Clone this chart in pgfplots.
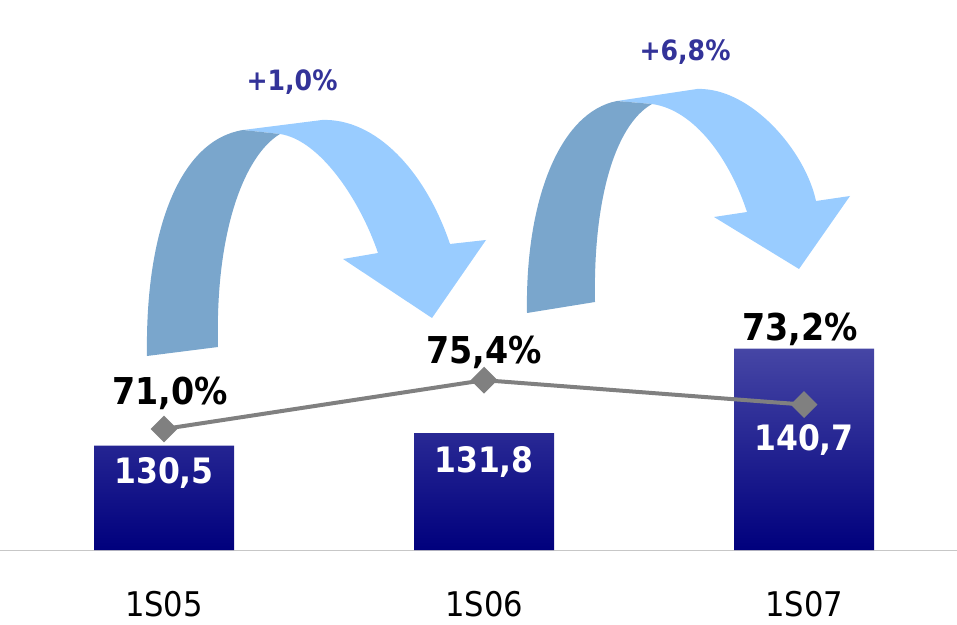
\documentclass[border=0pt]{standalone}
\usepackage{fontspec}
\setmainfont{DejaVu Sans}[FakeStretch=0.9]
\usepackage{pgfplots}
\pgfplotsset{compat=1.18}
\usepackage{pgfplotstable}

\definecolor{bartop}{RGB}{70,70,165}
\definecolor{barbot}{RGB}{0,0,125}
\definecolor{linegray}{RGB}{128,128,128}
\definecolor{arrowdark}{RGB}{122,166,204}
\definecolor{arrowlight}{RGB}{153,204,255}
\definecolor{growth}{RGB}{51,51,153}

% bar values, label offset (pt) from bar top
\pgfplotstableread{
x v dy
0 130.5 -27
1 131.8 -29
2 140.7 -91
}\sales

% ratio line, label offsets (pt)
\pgfplotstableread{
x p dx dy
0 71.0 6 36
1 75.4 0 28
2 73.2 -4 75
}\ratio

\pgfplotsset{base/.style={
  scale only axis, width=957pt, height=550pt,
  xmin=-0.5125, xmax=2.478,
  at={(0pt,0pt)}, anchor=south west,
  /pgf/number format/assume math mode=true}}

\begin{document}
\begin{tikzpicture}
\begin{axis}[base,
  ymin=0, ymax=57.9,
  axis y line=none, axis x line*=bottom,
  axis line style={-, draw=black!22, line width=1pt},
  xtick={0,1,2}, xticklabels={1S05,1S06,1S07},
  major tick length=0pt,
  xticklabel style={font=\fontsize{34}{36}\selectfont, anchor=center, inner sep=0pt, yshift=-54pt}]
\addplot[ybar, bar width=140pt, bar shift=0pt, draw=none,
  top color=bartop, bottom color=barbot,
  point meta=explicit,
  visualization depends on={\thisrow{dy}\as\dy},
  nodes near coords={\pgfmathprintnumber[fixed,fixed zerofill,precision=1,use comma]{\pgfplotspointmeta}},
  every node near coord/.append style={text=white, font=\bfseries\fontsize{35}{38}\selectfont,
    anchor=center, yshift=\dy}]
  table[x=x, y expr=\thisrow{v}-119.5, meta=v] {\sales};
\end{axis}

\begin{axis}[base, hide axis, ymin=60.1, ymax=109.65]
\addplot[linegray, line width=4pt, mark=square*, mark size=7.5pt,
  mark options={rotate=45, solid},
  point meta=explicit,
  visualization depends on={\thisrow{dy}\as\dy},
  visualization depends on={\thisrow{dx}\as\dx},
  nodes near coords={\pgfmathprintnumber[fixed,fixed zerofill,precision=1,use comma]{\pgfplotspointmeta}\%},
  every node near coord/.append style={text=black, font=\bfseries\fontsize{37}{40}\selectfont,
    anchor=center, xshift=\dx, yshift=\dy}]
  table[x=x, y=p, meta=p] {\ratio};
\end{axis}

% curved growth arrows, in picture pixels
\begin{scope}[shift={(0pt,550pt)}, x=1pt, y=-1pt]
  \fill[arrowlight] (243,130) -- (322,120) .. controls (375,118) and (425,170) .. (450,244)
    -- (486,240) -- (432,318) -- (343,259) -- (378,253)
    .. controls (360,200) and (320,140) .. (280,134) -- cycle;
  \fill[arrowdark] (147,356) .. controls (145,230) and (180,140) .. (243,130)
    -- (280,134) .. controls (245,155) and (215,230) .. (218,347) -- cycle;
  \fill[arrowlight] (617,101) -- (697,89) .. controls (750,87) and (805,150) .. (816,201)
    -- (850,196) -- (799,269) -- (714,217) -- (747,212)
    .. controls (730,160) and (695,110) .. (652,104) -- cycle;
  \fill[arrowdark] (527,313) .. controls (525,200) and (560,112) .. (617,101)
    -- (652,104) .. controls (615,125) and (593,200) .. (595,302) -- cycle;
  \node[text=growth, font=\bfseries\fontsize{28}{30}\selectfont] at (292,82) {+1,0\%};
  \node[text=growth, font=\bfseries\fontsize{28}{30}\selectfont] at (685,52) {+6,8\%};
\end{scope}

\pgfresetboundingbox
\useasboundingbox (0pt,-74pt) rectangle (957pt,550pt);
\end{tikzpicture}
\end{document}
